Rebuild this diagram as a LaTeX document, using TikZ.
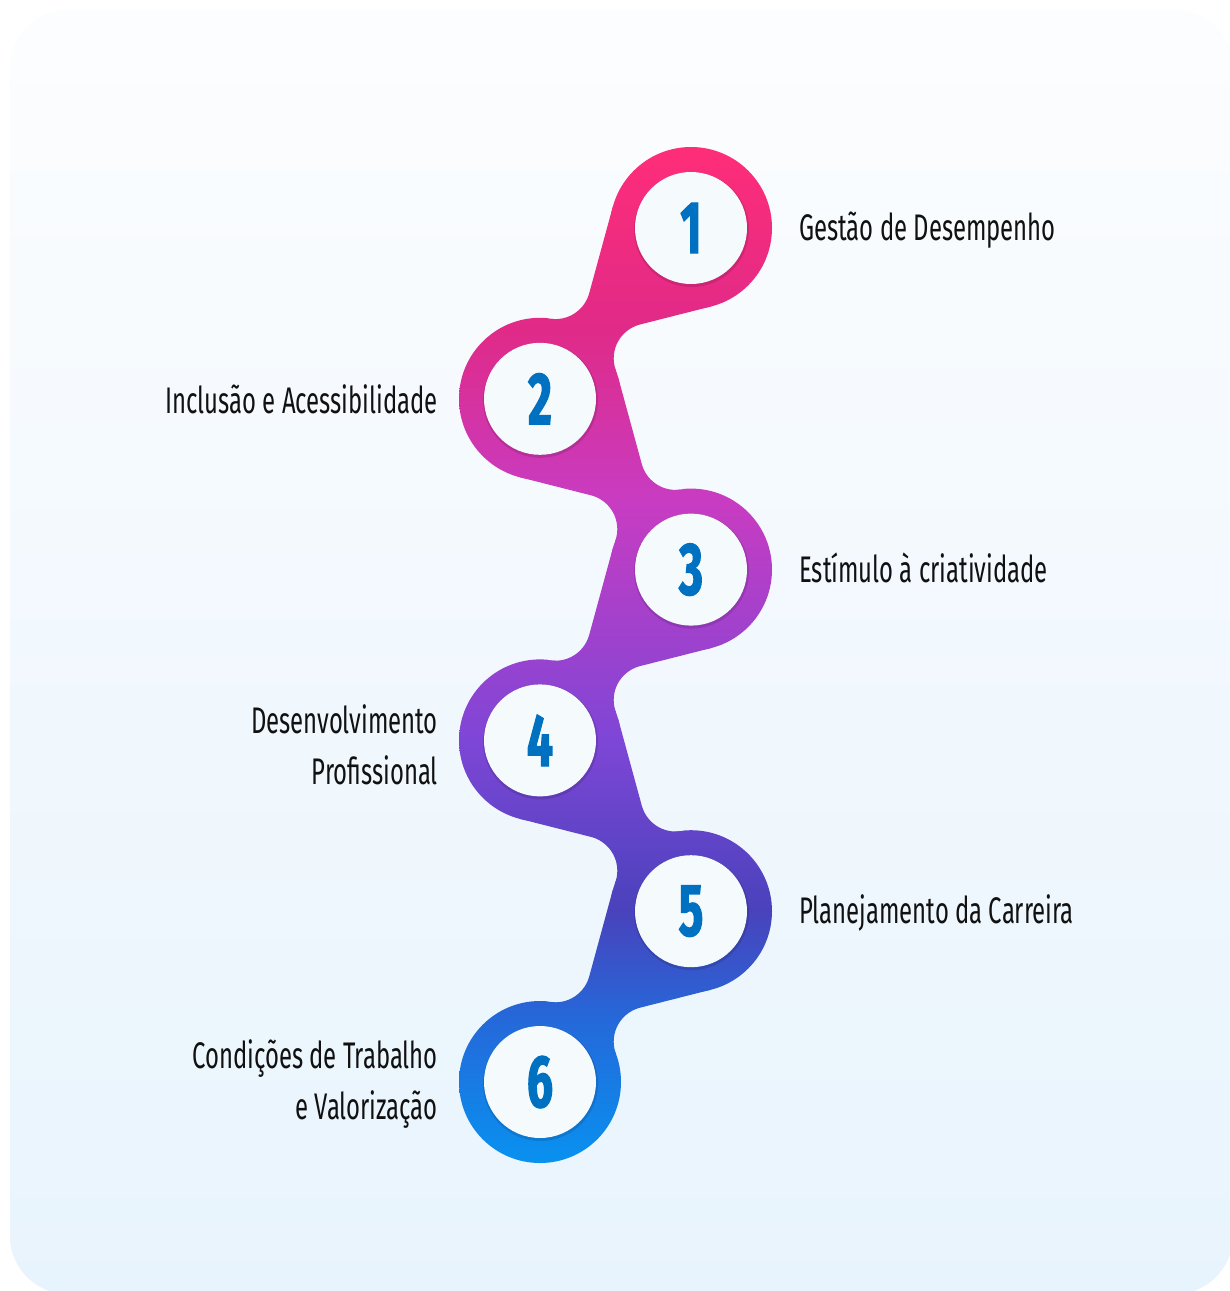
\documentclass[tikz,border=0pt]{standalone}
\usepackage{fontspec}
\setmainfont{Fira Sans}
\newfontfamily\lblfont[FakeStretch=0.645]{Fira Sans}
\newfontfamily\numfont[FakeStretch=0.62,FakeBold=1.6]{Fira Sans}
\usetikzlibrary{calc}
\definecolor{cardtop}{HTML}{FCFDFE}
\definecolor{cardbot}{HTML}{E8F4FD}
\definecolor{innerc}{HTML}{F5FAFD}
\definecolor{numblue}{HTML}{0070C0}
\definecolor{txt}{HTML}{111111}
\definecolor{g0}{HTML}{0892F0}
\definecolor{g1}{HTML}{2469DA}
\definecolor{g2}{HTML}{4A42BC}
\definecolor{g3}{HTML}{7E46D6}
\definecolor{g4}{HTML}{C83CC2}
\definecolor{g5}{HTML}{E02A88}
\definecolor{g6}{HTML}{FF2D78}
\pgfdeclareverticalshading{snakeshade}{100bp}{color(0bp)=(g0); color(25bp)=(g0); color(32bp)=(g1); color(37.5bp)=(g2); color(45.8bp)=(g3); color(57.6bp)=(g4); color(66bp)=(g5); color(75bp)=(g6); color(100bp)=(g6)}
% connector polygon: #1 x offset, #2 x sign, #3 y offset
\newcommand\conpoly[3]{({#1+(#2)*691},{228+#3}) -- ({#1+(#2)*612.8},{206.7+#3}) -- ({#1+(#2)*589.2},{293.3+#3}) -- ({#1+(#2)*555.4},{284.1+#3}) -- ({#1+(#2)*550.7},{318.8+#3}) -- ({#1+(#2)*540},{398.8+#3}) -- ({#1+(#2)*615.9},{370.7+#3}) -- ({#1+(#2)*648.7},{358.4+#3}) -- ({#1+(#2)*640},{324.5+#3}) -- ({#1+(#2)*710.9},{306.5+#3}) -- cycle}
\tikzset{
  lbl/.style={inner sep=0pt, text=txt, font=\lblfont\fontsize{37}{51}\selectfont},
  numstyle/.style={inner sep=0pt, text=numblue, font=\numfont\bfseries\fontsize{74}{74}\selectfont},
}
\begin{document}
\begin{tikzpicture}[x=1pt,y=-1pt]
\useasboundingbox (0,0) rectangle (1230,1291);
\fill[white] (0,0) rectangle (1230,1291);
\shade[top color=cardtop, bottom color=cardbot, rounded corners=58] (10,10) rectangle (1233,1294);
% circle centres
\coordinate (c1) at (691,228);
\coordinate (c2) at (540,398.8);
\coordinate (c3) at (691,569.6);
\coordinate (c4) at (540,740.4);
\coordinate (c5) at (691,911.2);
\coordinate (c6) at (540,1082);
% snake body
\begin{scope}[even odd rule]
  \clip (420,120) rectangle (810,1190)
    foreach \k/\xo/\xs in {1/0/1,2/1231/-1,3/0/1,4/1231/-1,5/0/1}{
      ({\xo+(\xs)*555.4},{284.1+(\k-1)*170.8}) circle (35)
      ({\xo+(\xs)*648.7},{358.4+(\k-1)*170.8}) circle (35)};
  \foreach \i in {1,...,6}{
    \begin{scope}
      \clip (c\i) circle (81);
      \shade[shading=snakeshade] (430,147) rectangle (800,1164);
    \end{scope}
  }
  \foreach \k/\xo/\xs in {1/0/1,2/1231/-1,3/0/1,4/1231/-1,5/0/1}{
    \begin{scope}
      \clip \conpoly{\xo}{\xs}{(\k-1)*170.8};
      \shade[shading=snakeshade] (430,147) rectangle (800,1164);
    \end{scope}
  }
\end{scope}
% inner discs and numbers
\foreach \i in {1,...,6}{
  \fill[black, opacity=0.12] ($(c\i)+(0.5,1.5)$) circle (57.5);
  \fill[innerc] (c\i) circle (56);
  \node[numstyle] (n\i) at (c\i) {\i};
}
% labels
\node[lbl, anchor=base west] (l1) at (799,240) {Gestão de Desempenho};
\node[lbl, anchor=base east] (l2) at (438,413) {Inclusão e Acessibilidade};
\node[lbl, anchor=base west] (l3) at (799,582) {Estímulo à criatividade};
\node[lbl, anchor=base east, align=right] (l4) at (438,784) {Desenvolvimento\\Profissional};
\node[lbl, anchor=base west] (l5) at (799,923) {Planejamento da Carreira};
\node[lbl, anchor=base east, align=right] (l6) at (438,1119) {Condições de Trabalho\\e Valorização};
\end{tikzpicture}
\end{document}
